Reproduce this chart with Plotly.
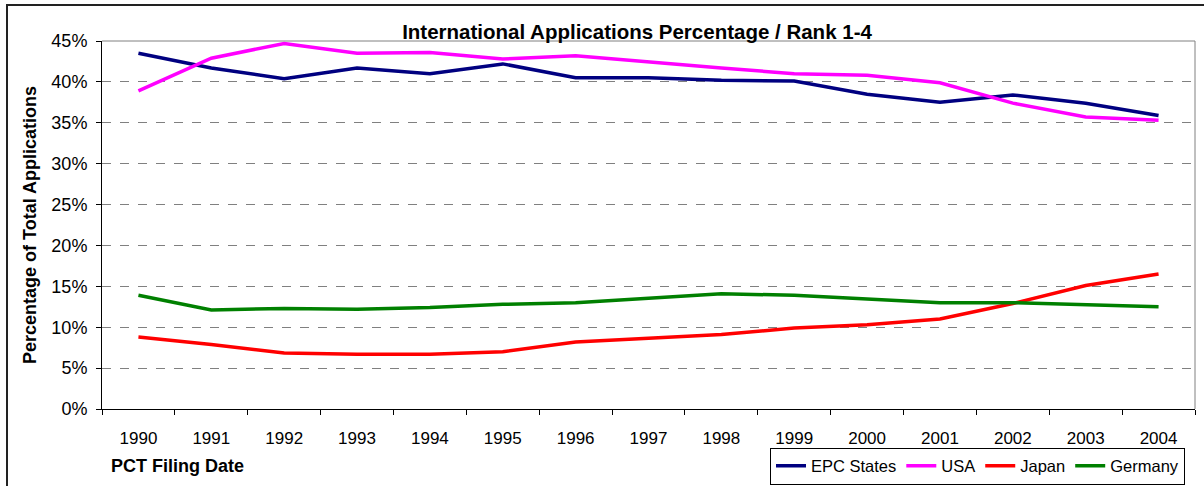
import plotly.graph_objects as go

years = ["1990","1991","1992","1993","1994","1995","1996","1997","1998","1999","2000","2001","2002","2003","2004"]
epc = [43.5, 41.7, 40.4, 41.7, 41.0, 42.2, 40.5, 40.5, 40.2, 40.1, 38.5, 37.5, 38.4, 37.4, 35.9]
usa = [38.9, 42.9, 44.7, 43.5, 43.6, 42.8, 43.2, 42.4, 41.7, 41.0, 40.8, 39.9, 37.4, 35.7, 35.3]
japan = [8.8, 7.9, 6.85, 6.7, 6.7, 7.0, 8.2, 8.7, 9.1, 9.9, 10.3, 11.0, 12.9, 15.1, 16.5]
germany = [13.9, 12.1, 12.3, 12.2, 12.4, 12.8, 13.0, 13.5, 14.1, 13.9, 13.5, 13.0, 13.0, 12.7, 12.5]

series = [("EPC States", epc, "#000080"), ("USA", usa, "#FF00FF"),
          ("Japan", japan, "#FF0000"), ("Germany", germany, "#008000")]

fig = go.Figure()
for name, vals, col in series:
    fig.add_trace(go.Scatter(x=years, y=[v / 100 for v in vals], name=name, mode="lines",
                             line=dict(color=col, width=3.5)))

W, H = 1204, 486
PL, PR, PT, PB = 102, 1195, 41, 409  # plot area in pixels


def px(x):
    return x / W


def py(y):
    return (H - y) / H


fig.update_layout(
    width=W, height=H,
    margin=dict(l=0, r=0, t=0, b=0, pad=0),
    paper_bgcolor="white", plot_bgcolor="white",
    font=dict(family="Liberation Sans, Arial", size=17, color="black"),
    title=dict(text="<b>International Applications Percentage / Rank 1-4</b>",
               x=px(637), xanchor="center", y=py(31.5), yanchor="middle",
               font=dict(size=20.5)),
    xaxis=dict(type="category", domain=[px(PL), px(PR)], automargin=False,
               showline=True, linecolor="black", linewidth=1,
               ticks="outside", ticklen=5, tickcolor="black", tickson="boundaries",
               showgrid=False, tickfont=dict(size=17), range=[-0.5, 14.5],
               ticklabelstandoff=14),
    yaxis=dict(domain=[py(PB), py(PT)], automargin=False,
               range=[0, 0.45], dtick=0.05, tickformat=".0%", showline=True,
               linecolor="black", linewidth=1, ticks="outside", ticklen=5,
               tickcolor="black", showgrid=True, gridcolor="#808080", griddash="dash",
               gridwidth=1, zeroline=False, tickfont=dict(size=18),
               ticklabelstandoff=5),
    legend=dict(orientation="h", x=px(770), xanchor="left", y=0.003, yanchor="bottom",
                bordercolor="black", borderwidth=1, font=dict(size=16.5),
                itemwidth=30, tracegroupgap=0, bgcolor="white"),
    showlegend=True,
)

fig.add_annotation(text="<b>Percentage of Total Applications</b>", xref="paper", yref="paper",
                   x=px(30), y=py((PT + PB) / 2), xanchor="center", yanchor="middle",
                   textangle=-90, showarrow=False, font=dict(size=18))
fig.add_annotation(text="<b>PCT Filing Date</b>", xref="paper", yref="paper",
                   x=px(109), xanchor="left", y=py(466), yanchor="middle",
                   showarrow=False, font=dict(size=18))

# gray top/right plot border
fig.add_shape(type="line", xref="paper", yref="paper", x0=px(PL), x1=px(PR), y0=py(PT), y1=py(PT),
              line=dict(color="#808080", width=1))
fig.add_shape(type="line", xref="paper", yref="paper", x0=px(PR), x1=px(PR), y0=py(PB), y1=py(PT),
              line=dict(color="#808080", width=1))
# outer chart frame
fig.add_shape(type="line", xref="paper", yref="paper", x0=px(6), x1=1, y0=py(5), y1=py(5),
              line=dict(color="#222222", width=2))
fig.add_shape(type="line", xref="paper", yref="paper", x0=px(7), x1=px(7), y0=0, y1=py(5),
              line=dict(color="#222222", width=2))

fig.write_html("out.html", config={"displayModeBar": False},
               post_script="document.body.style.margin='0px';document.body.style.overflow='hidden';")
